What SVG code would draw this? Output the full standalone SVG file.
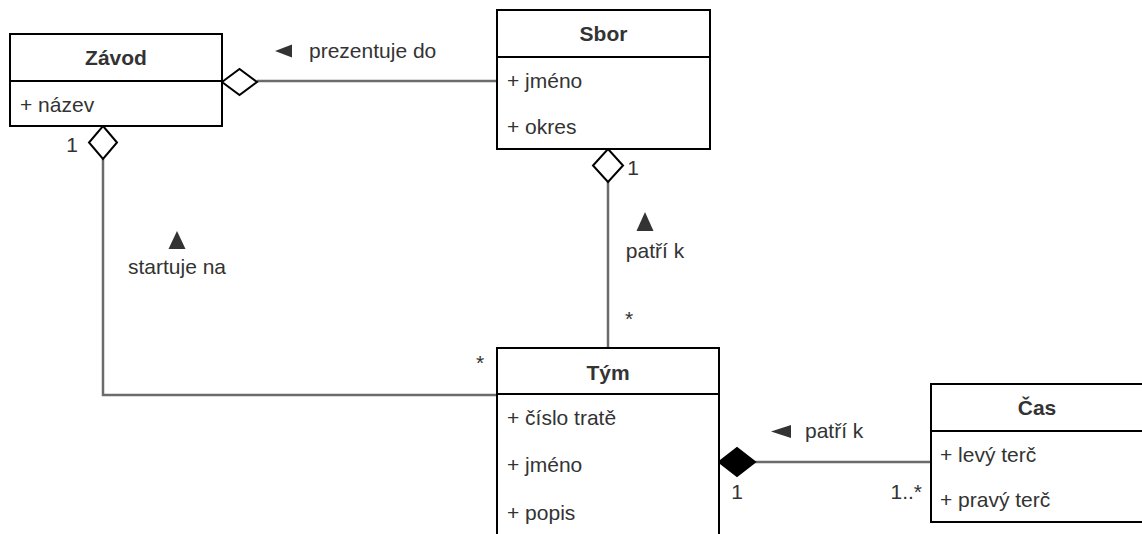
<svg xmlns="http://www.w3.org/2000/svg" width="1142" height="534" viewBox="0 0 1142 534">
<style>
.box{fill:#fff;stroke:#000;stroke-width:2}
.div{stroke:#000;stroke-width:2}
.title{font-family:"Liberation Sans",Arial,sans-serif;font-size:21px;font-weight:bold;fill:#333;text-anchor:middle}
.attr{font-family:"Liberation Sans",Arial,sans-serif;font-size:21px;fill:#333}
.lbl{font-family:"Liberation Sans",Arial,sans-serif;font-size:21px;fill:#333}
.edge{fill:none;stroke:#6b6b6b;stroke-width:2.5}
.odia{fill:#fff;stroke:#000;stroke-width:2}
.fdia{fill:#000;stroke:#000;stroke-width:2}
.tri{fill:#333}
</style>
<rect width="1142" height="534" fill="#fff"/>
<g id="connectors">
  <path class="edge" d="M257 81 L497 81"/>
  <polygon class="odia" points="222,82 239.5,69 257,82 239.5,95"/>
  <path class="edge" d="M103 159 L103 395 L497 395"/>
  <polygon class="odia" points="103,126 117,142.5 103,159 89,142.5"/>
  <path class="edge" d="M608 182 L608 348"/>
  <polygon class="odia" points="608,149 623,165.5 608,182 593,165.5"/>
  <path class="edge" d="M755 462 L931 462"/>
  <polygon class="fdia" points="719,462 737,448 755,462 737,476"/>
</g>
<g id="labels">
  <polygon class="tri" points="275,51 292,44.5 292,57.5"/>
  <text class="lbl" x="309" y="58">prezentuje do</text>
  <polygon class="tri" points="177,231 185.5,249 168.5,249"/>
  <text class="lbl" x="177" y="274" text-anchor="middle">startuje na</text>
  <text class="lbl" x="72" y="152" text-anchor="middle">1</text>
  <text class="lbl" x="480" y="370" text-anchor="middle" font-size="15">*</text>
  <polygon class="tri" points="645,212 653.5,231 636.5,231"/>
  <text class="lbl" x="655" y="258" text-anchor="middle">patří k</text>
  <text class="lbl" x="633" y="175" text-anchor="middle">1</text>
  <text class="lbl" x="629" y="326" text-anchor="middle" font-size="15">*</text>
  <polygon class="tri" points="771,431.5 791,425 791,438"/>
  <text class="lbl" x="805" y="438">patří k</text>
  <text class="lbl" x="737" y="499" text-anchor="middle">1</text>
  <text class="lbl" x="922" y="499" text-anchor="end">1..*</text>
</g>
<g id="zavod">
  <rect class="box" x="10" y="34" width="212" height="92"/>
  <line class="div" x1="10" y1="81" x2="222" y2="81"/>
  <text class="title" x="116" y="65">Závod</text>
  <text class="attr" x="20" y="112">+ název</text>
</g>
<g id="sbor">
  <rect class="box" x="497" y="10" width="213" height="139"/>
  <line class="div" x1="497" y1="57" x2="710" y2="57"/>
  <text class="title" x="603.5" y="41">Sbor</text>
  <text class="attr" x="507" y="88">+ jméno</text>
  <text class="attr" x="507" y="134">+ okres</text>
</g>
<g id="tym">
  <rect class="box" x="497" y="348" width="222" height="200"/>
  <line class="div" x1="497" y1="394" x2="719" y2="394"/>
  <text class="title" x="608" y="380">Tým</text>
  <text class="attr" x="507" y="425">+ číslo tratě</text>
  <text class="attr" x="507" y="472">+ jméno</text>
  <text class="attr" x="507" y="520">+ popis</text>
</g>
<g id="cas">
  <rect class="box" x="931" y="384" width="213" height="138"/>
  <line class="div" x1="931" y1="431" x2="1144" y2="431"/>
  <text class="title" x="1037" y="415" font-weight="normal">Čas</text>
  <text class="attr" x="940" y="462">+ levý terč</text>
  <text class="attr" x="940" y="507">+ pravý terč</text>
</g>
</svg>
